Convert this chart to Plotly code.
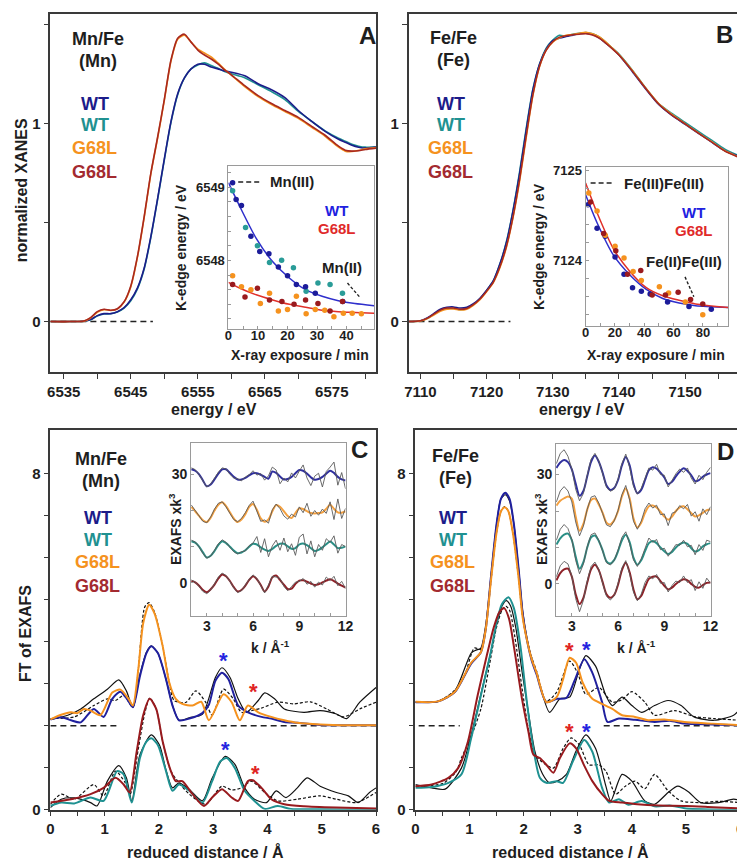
import plotly.graph_objects as go

W, H = 745, 860
FONT = "Liberation Sans, Arial, Helvetica, sans-serif"

NAVY = "#1c1c8a"
TEAL = "#1f9191"
ORANGE = "#f5921e"
DARKRED = "#a8281f"
FIT_BLUE = "#2f2fcc"
FIT_RED = "#e0302a"
STAR_BLUE = "#2424e0"
STAR_RED = "#e02424"
GRAY = "#5a5a5a"
TXT = "#1e1e1e"

# ---------------- Panel A: Mn K-edge XANES ----------------
mn_energy = [6533, 6536, 6538, 6539, 6540, 6541, 6542, 6543, 6544, 6545, 6546, 6547, 6548, 6549,
             6550, 6551, 6552, 6553, 6554, 6555, 6556, 6557, 6558, 6559, 6560, 6562, 6564, 6566,
             6568, 6570, 6572, 6574, 6576, 6577, 6578, 6579, 6580, 6581.6]
mn_wt_navy = [0.0, 0.0, 0.002, 0.01, 0.03, 0.04, 0.04, 0.05, 0.07, 0.11, 0.17, 0.27, 0.43, 0.62,
              0.82, 1.01, 1.15, 1.23, 1.275, 1.298, 1.298, 1.285, 1.275, 1.265, 1.258, 1.24, 1.20, 1.17,
              1.13, 1.065, 1.01, 0.96, 0.92, 0.905, 0.89, 0.88, 0.875, 0.88]
mn_wt_teal = [0.0, 0.0, 0.002, 0.009, 0.028, 0.038, 0.039, 0.048, 0.068, 0.105, 0.165, 0.265, 0.425, 0.615,
              0.815, 1.005, 1.145, 1.228, 1.275, 1.295, 1.305, 1.292, 1.278, 1.262, 1.25, 1.23, 1.195, 1.16,
              1.12, 1.06, 1.01, 0.962, 0.925, 0.91, 0.895, 0.885, 0.88, 0.882]
mn_g68l_orange = [0.0, 0.0, 0.002, 0.018, 0.047, 0.06, 0.056, 0.063, 0.098, 0.175, 0.325, 0.525, 0.745, 0.925,
                  1.115, 1.315, 1.425, 1.445, 1.41, 1.375, 1.355, 1.335, 1.305, 1.272, 1.243, 1.185, 1.135, 1.095,
                  1.06, 1.025, 0.98, 0.935, 0.88, 0.86, 0.858, 0.864, 0.872, 0.878]
mn_g68l_red = [0.0, 0.0, 0.003, 0.02, 0.05, 0.062, 0.057, 0.065, 0.10, 0.18, 0.33, 0.53, 0.75, 0.93,
               1.12, 1.32, 1.43, 1.45, 1.41, 1.37, 1.345, 1.325, 1.30, 1.27, 1.245, 1.19, 1.14, 1.10,
               1.065, 1.03, 0.985, 0.94, 0.885, 0.865, 0.86, 0.862, 0.868, 0.875]
mn_base_x = [6533, 6548.3]
base_zero = [0, 0]

# ---------------- Panel B: Fe K-edge XANES ----------------
fe_energy = [7108.2, 7110, 7111, 7112, 7113, 7114, 7115, 7116, 7117, 7118, 7119, 7120, 7121, 7122,
             7123, 7124, 7125, 7126, 7127, 7128, 7129, 7130, 7131, 7132, 7133, 7134, 7135, 7136,
             7137, 7138, 7139, 7140, 7142, 7144, 7146, 7148, 7150, 7152, 7154, 7156, 7158.3]
fe_wt_navy = [0.0, 0.004, 0.018, 0.04, 0.062, 0.072, 0.074, 0.068, 0.072, 0.09, 0.118, 0.158, 0.205, 0.29,
              0.40, 0.56, 0.75, 0.97, 1.17, 1.30, 1.375, 1.418, 1.43, 1.438, 1.445, 1.452, 1.455, 1.448,
              1.432, 1.405, 1.378, 1.345, 1.262, 1.175, 1.095, 1.04, 0.995, 0.95, 0.905, 0.862, 0.832]
fe_wt_teal = [0.0, 0.003, 0.015, 0.036, 0.056, 0.066, 0.066, 0.06, 0.066, 0.086, 0.116, 0.157, 0.205, 0.29,
              0.405, 0.565, 0.76, 0.98, 1.175, 1.30, 1.38, 1.42, 1.445, 1.44, 1.45, 1.455, 1.458, 1.452,
              1.436, 1.41, 1.38, 1.35, 1.27, 1.18, 1.10, 1.05, 1.005, 0.96, 0.915, 0.87, 0.835]
fe_g68l_orange = [0.0, 0.003, 0.014, 0.033, 0.052, 0.062, 0.063, 0.058, 0.062, 0.082, 0.11, 0.15, 0.195, 0.27,
                  0.375, 0.525, 0.71, 0.93, 1.14, 1.285, 1.37, 1.41, 1.432, 1.445, 1.448, 1.455, 1.46, 1.452,
                  1.438, 1.412, 1.38, 1.348, 1.268, 1.18, 1.10, 1.045, 0.998, 0.952, 0.908, 0.862, 0.828]
fe_g68l_red = [0.0, 0.004, 0.016, 0.037, 0.058, 0.068, 0.068, 0.062, 0.066, 0.085, 0.114, 0.153, 0.198, 0.275,
               0.38, 0.53, 0.72, 0.94, 1.145, 1.288, 1.368, 1.412, 1.435, 1.442, 1.447, 1.45, 1.452, 1.446,
               1.43, 1.405, 1.376, 1.345, 1.265, 1.178, 1.098, 1.042, 0.997, 0.951, 0.906, 0.86, 0.826]
fe_base_x = [7108.2, 7123.6]

# ---------------- Inset A: Mn K-edge energy vs exposure ----------------
mn_wt_navy_t = [1.4, 2.6, 4.4, 7.6, 10.6, 13.7, 16.9, 20.0, 23.0, 26.1, 29.4, 38.7]
mn_wt_navy_e = [6549.06, 6548.83, 6548.75, 6548.33, 6548.12, 6548.09, 6547.91, 6547.79, 6547.67, 6547.64, 6547.55, 6547.44]
mn_wt_teal_t = [1.4, 5.8, 9.8, 13.9, 18.0, 22.0, 26.3, 30.3, 34.4, 38.6]
mn_wt_teal_e = [6548.95, 6548.45, 6548.20, 6547.97, 6548.00, 6547.90, 6547.58, 6547.69, 6547.67, 6547.55]
mn_g68l_orange_t = [1.4, 4.4, 7.6, 10.8, 13.9, 16.9, 20.0, 23.0, 26.3, 29.4, 32.6, 35.7, 38.9, 41.9, 45.0]
mn_g68l_orange_e = [6547.79, 6547.64, 6547.60, 6547.41, 6547.55, 6547.31, 6547.33, 6547.51, 6547.27, 6547.33,
                    6547.32, 6547.23, 6547.28, 6547.28, 6547.27]
mn_g68l_red_t = [1.4, 5.6, 9.8, 13.9, 18.1, 22.2, 26.1, 30.3, 34.4, 38.6]
mn_g68l_red_e = [6547.67, 6547.50, 6547.62, 6547.46, 6547.44, 6547.40, 6547.46, 6547.41, 6547.31, 6547.44]
mn_fit_t = [0, 3.9, 9.4, 15.0, 20.6, 26.1, 31.7, 37.2, 42.8, 49.3]
mn_fit_wt = [6549.06, 6548.73, 6548.30, 6547.98, 6547.76, 6547.60, 6547.51, 6547.45, 6547.41, 6547.38]
mn_fit_g68l = [6547.70, 6547.62, 6547.53, 6547.46, 6547.40, 6547.36, 6547.32, 6547.30, 6547.29, 6547.28]
mn3_ref_t = [3.3, 11.0]
mn3_ref_e = [6549.07, 6549.07]
mn2_ptr_t = [40.3, 44.4]
mn2_ptr_e = [6547.69, 6547.50]

# ---------------- Inset B: Fe K-edge energy vs exposure ----------------
fe_wt_navy_t = [1.6, 7.8, 13.4, 20.1, 26.2, 32.0, 38.0, 44.0, 55.9, 70.5, 85.7]
fe_wt_navy_e = [7124.62, 7124.36, 7124.27, 7124.04, 7123.85, 7123.70, 7123.66, 7123.63, 7123.54, 7123.49, 7123.46]
fe_g68l_orange_t = [2.2, 7.8, 13.4, 20.1, 26.2, 32.4, 38.0, 50.3, 56.6, 68.0, 79.9]
fe_g68l_orange_e = [7124.75, 7124.55, 7124.28, 7124.16, 7124.03, 7123.88, 7123.78, 7123.71, 7123.64, 7123.54, 7123.40]
fe_g68l_red_t = [3.4, 12.3, 20.6, 28.6, 37.6, 45.4, 54.4, 63.1, 71.6, 79.9]
fe_g68l_red_e = [7124.65, 7124.30, 7124.11, 7123.85, 7123.89, 7123.62, 7123.62, 7123.65, 7123.57, 7123.52]
fe_fit_t = [0, 7.8, 19.0, 30.2, 41.4, 52.6, 63.8, 75.0, 97.3]
fe_fit_wt = [7124.73, 7124.42, 7124.06, 7123.84, 7123.68, 7123.58, 7123.53, 7123.50, 7123.48]
fe_fit_g68l = [7124.86, 7124.53, 7124.13, 7123.88, 7123.70, 7123.61, 7123.56, 7123.52, 7123.48]
fe33_ref_t = [3.4, 19.0]
fe33_ref_e = [7124.86, 7124.86]
fe23_ptr_t = [67.8, 73.8]
fe23_ptr_e = [7123.82, 7123.60]

# ---------------- Panel C: Mn/Fe FT of EXAFS ----------------
c_up_orange_r = [0, 0.2, 0.38, 0.5, 0.62, 0.74, 0.92, 1.14, 1.29, 1.44, 1.52, 1.62, 1.71, 1.82, 1.92, 2.07, 2.19,
                 2.31, 2.43, 2.62, 2.78, 2.92, 3.19, 3.34, 3.49, 3.64, 3.83, 4.07, 4.31, 4.55, 4.97, 5.5, 6.0]
c_up_orange_y = [2.15, 2.26, 2.32, 2.30, 2.40, 2.36, 2.25, 2.79, 2.86, 2.64, 2.48, 3.34, 4.44, 4.88, 4.67, 3.89, 3.03,
                 2.64, 2.52, 2.48, 2.57, 2.13, 2.75, 2.56, 2.13, 2.48, 2.32, 2.21, 2.13, 2.07, 2.03, 2.01, 2.01]
c_up_blue_r = [0, 0.2, 0.38, 0.56, 0.80, 0.98, 1.14, 1.29, 1.41, 1.52, 1.65, 1.77, 1.86, 1.98, 2.13, 2.25, 2.37,
               2.56, 2.80, 2.92, 3.04, 3.16, 3.28, 3.46, 3.64, 3.89, 4.07, 4.31, 4.55, 4.97, 6.0]
c_up_blue_y = [2.15, 2.20, 2.13, 2.08, 2.40, 2.21, 2.64, 2.81, 2.64, 2.44, 3.18, 3.73, 3.89, 3.73, 3.11, 2.48, 2.13,
               2.17, 2.30, 2.50, 3.07, 3.26, 3.11, 2.48, 2.32, 2.21, 2.17, 2.09, 2.07, 2.02, 2.01]
c_up_sim_wt_r = [0, 0.32, 0.56, 0.80, 1.05, 1.26, 1.40, 1.52, 1.65, 1.77, 1.86, 1.98, 2.13, 2.25, 2.37, 2.56, 2.80,
                 3.04, 3.16, 3.31, 3.46, 3.61, 3.83, 3.95, 4.13, 4.31, 4.67, 4.97, 5.27, 5.46, 5.70, 6.0]
c_up_sim_wt_y = [2.15, 2.25, 2.40, 2.64, 2.87, 3.09, 2.83, 2.44, 3.22, 3.75, 3.90, 3.73, 3.11, 2.48, 2.13, 2.19, 2.27,
                 3.15, 3.38, 3.15, 2.64, 2.32, 2.60, 2.78, 2.64, 2.40, 2.32, 2.36, 2.28, 2.17, 2.56, 2.91]
c_up_sim_g68l_r = [0, 0.44, 0.80, 1.05, 1.20, 1.35, 1.52, 1.62, 1.74, 1.82, 1.92, 2.07, 2.19, 2.28, 2.50, 2.68,
                   2.86, 2.98, 3.19, 3.37, 3.52, 3.70, 3.89, 4.19, 4.49, 4.79, 5.09, 5.40, 5.70, 6.0]
c_up_sim_g68l_y = [2.17, 2.21, 2.48, 2.64, 2.60, 2.72, 2.44, 3.34, 4.83, 4.93, 4.70, 3.90, 3.03, 2.60, 2.56, 2.83,
                   2.56, 2.25, 2.87, 2.64, 2.32, 2.36, 2.42, 2.56, 2.52, 2.57, 2.40, 2.21, 2.40, 2.56]
c_lo_red_r = [0, 0.38, 0.74, 0.98, 1.20, 1.35, 1.46, 1.59, 1.71, 1.83, 1.95, 2.07, 2.22, 2.31, 2.43, 2.62, 2.83,
              2.98, 3.16, 3.34, 3.46, 3.64, 3.73, 3.89, 4.07, 4.31, 4.67, 5.27, 6.0]
c_lo_red_y = [0.17, 0.25, 0.37, 0.52, 0.76, 0.60, 0.41, 1.38, 2.25, 2.64, 2.40, 1.62, 0.92, 0.68, 0.68, 0.37, 0.09,
              0.29, 0.49, 0.29, 0.21, 0.68, 0.70, 0.52, 0.25, 0.13, 0.08, 0.05, 0.03]
c_lo_teal_r = [0, 0.2, 0.44, 0.74, 0.98, 1.23, 1.35, 1.50, 1.65, 1.77, 1.86, 1.98, 2.13, 2.25, 2.37, 2.56, 2.80,
               2.98, 3.13, 3.25, 3.40, 3.58, 3.76, 3.95, 4.19, 4.43, 5.0, 6.0]
c_lo_teal_y = [0.09, 0.17, 0.15, 0.29, 0.21, 0.92, 0.84, 0.17, 1.23, 1.62, 1.70, 1.54, 0.92, 0.45, 0.60, 0.45, 0.17,
               0.68, 1.15, 1.23, 0.99, 0.45, 0.21, 0.02, 0.09, 0.02, 0.01, 0.0]
c_lo_sim_wt_r = [0, 0.2, 0.44, 0.74, 0.86, 1.05, 1.26, 1.40, 1.50, 1.65, 1.86, 2.01, 2.13, 2.25, 2.37, 2.56, 2.80,
                 2.98, 3.22, 3.40, 3.58, 3.76, 3.98, 4.16, 4.34, 4.55, 4.73, 4.97, 5.27, 5.49, 5.67, 5.88, 6.0]
c_lo_sim_wt_y = [0.05, 0.25, 0.28, 0.17, 0.09, 0.68, 1.05, 0.76, 0.21, 1.31, 1.78, 1.54, 0.95, 0.52, 0.64, 0.48, 0.21,
                 0.75, 1.27, 1.08, 0.52, 0.25, 0.17, 0.45, 0.29, 0.52, 0.76, 0.56, 0.41, 0.33, 0.17, 0.41, 0.52]
c_lo_sim_g68l_r = [0, 0.2, 0.44, 0.80, 0.98, 1.20, 1.38, 1.47, 1.62, 1.74, 1.83, 1.95, 2.07, 2.22, 2.37, 2.56, 2.86,
                   3.16, 3.34, 3.52, 3.70, 3.95, 4.19, 4.55, 4.97, 5.27, 5.64, 6.0]
c_lo_sim_g68l_y = [0.13, 0.37, 0.25, 0.60, 0.33, 0.92, 0.64, 0.37, 1.45, 2.30, 2.66, 2.40, 1.62, 0.92, 0.64, 0.37, 0.13,
                   0.56, 0.47, 0.52, 0.68, 0.41, 0.21, 0.25, 0.33, 0.25, 0.17, 0.41]
c_base1_r = [0, 1.29]
c_base2_r = [2.40, 6.0]
base_two = [2, 2]
c_star_blue_r = [3.19, 3.22]
c_star_blue_y = [3.69, 1.58]
c_star_red_r = [3.75, 3.78]
c_star_red_y = [2.95, 1.01]

# ---------------- Panel D: Fe/Fe FT of EXAFS ----------------
d_up_blue_r = [0, 0.42, 0.73, 1.03, 1.21, 1.30, 1.40, 1.50, 1.58, 1.66, 1.74, 1.82, 1.91, 1.98, 2.06, 2.15, 2.24,
               2.42, 2.61, 2.79, 2.94, 3.12, 3.27, 3.45, 3.55, 3.76, 4.06, 4.42, 4.7, 4.97, 5.5, 6.0]
d_up_blue_y = [2.56, 2.58, 2.80, 3.48, 3.75, 4.3, 5.6, 6.8, 7.4, 7.55, 7.4, 6.8, 5.7, 4.7, 4.05, 3.55, 3.22,
               2.56, 2.64, 2.66, 3.07, 3.58, 3.26, 2.56, 2.09, 2.17, 2.14, 2.09, 2.12, 2.05, 2.03, 2.01]
d_up_orange_r = [0, 0.42, 0.73, 1.03, 1.21, 1.30, 1.40, 1.50, 1.58, 1.65, 1.72, 1.80, 1.90, 1.98, 2.06, 2.15, 2.24,
                 2.42, 2.61, 2.73, 2.85, 2.97, 3.09, 3.27, 3.45, 3.64, 3.82, 4.06, 4.30, 4.6, 4.97, 5.5, 6.0]
d_up_orange_y = [2.57, 2.58, 2.81, 3.50, 3.75, 4.3, 5.5, 6.6, 7.1, 7.2, 7.1, 6.6, 5.6, 4.6, 4.05, 3.58, 3.26,
                 2.56, 2.68, 3.11, 3.62, 3.50, 3.03, 2.64, 2.52, 2.40, 2.25, 2.21, 2.13, 2.15, 2.09, 2.05, 2.01]
d_up_sim_wt_r = [0, 0.42, 0.73, 1.03, 1.12, 1.21, 1.30, 1.40, 1.50, 1.58, 1.66, 1.74, 1.82, 1.91, 1.98, 2.06, 2.15,
                 2.24, 2.48, 2.67, 2.85, 3.03, 3.15, 3.33, 3.52, 3.64, 3.82, 4.0, 4.18, 4.42, 4.67, 4.91, 5.15,
                 5.52, 5.88, 6.0]
d_up_sim_wt_y = [2.56, 2.58, 2.83, 3.73, 3.80, 3.85, 4.4, 5.6, 6.8, 7.4, 7.5, 7.35, 6.8, 5.7, 4.75, 4.1, 3.6,
                 3.25, 2.32, 2.64, 2.68, 3.34, 3.67, 3.42, 2.72, 2.48, 2.68, 2.48, 2.32, 2.48, 2.60, 2.48, 2.21,
                 2.13, 2.25, 2.40]
d_up_sim_g68l_r = [0, 0.42, 0.73, 0.91, 1.09, 1.21, 1.30, 1.40, 1.50, 1.58, 1.65, 1.72, 1.80, 1.90, 1.98, 2.06,
                   2.15, 2.24, 2.42, 2.61, 2.85, 3.0, 3.15, 3.39, 3.64, 3.82, 4.0, 4.24, 4.42, 4.79, 5.15, 5.52, 6.0]
d_up_sim_g68l_y = [2.56, 2.58, 2.85, 3.20, 3.85, 3.82, 4.3, 5.5, 6.6, 7.1, 7.22, 7.1, 6.6, 5.6, 4.6, 4.05,
                   3.62, 3.3, 2.58, 2.8, 3.54, 3.25, 2.75, 2.91, 2.56, 2.62, 2.81, 2.56, 2.25, 2.36, 2.22, 2.17, 2.13]
d_lo_red_r = [0, 0.3, 0.61, 0.79, 0.97, 1.15, 1.33, 1.45, 1.55, 1.64, 1.73, 1.82, 1.97, 2.09, 2.18, 2.30, 2.42,
              2.55, 2.67, 2.85, 2.97, 3.12, 3.27, 3.45, 3.58, 3.82, 4.1, 4.5, 5.0, 5.5, 6.0]
d_lo_red_y = [0.56, 0.60, 0.76, 0.99, 1.62, 2.72, 3.73, 4.35, 4.70, 4.80, 4.55, 3.89, 2.64, 1.85, 1.31, 1.23, 1.07,
              0.88, 1.23, 1.58, 1.46, 1.05, 0.68, 0.37, 0.21, 0.17, 0.13, 0.10, 0.09, 0.06, 0.03]
d_lo_teal_r = [0, 0.3, 0.61, 0.85, 1.03, 1.21, 1.39, 1.50, 1.60, 1.72, 1.82, 1.94, 2.06, 2.18, 2.30, 2.42, 2.61,
               2.73, 2.91, 3.12, 3.27, 3.45, 3.58, 3.76, 3.94, 4.18, 4.42, 4.7, 5.0, 6.0]
d_lo_teal_y = [0.52, 0.54, 0.64, 0.84, 1.70, 2.72, 3.73, 4.45, 4.9, 5.06, 4.8, 3.9, 2.56, 1.46, 0.76, 0.64, 0.68,
               0.64, 1.15, 1.66, 1.38, 0.52, 0.17, 0.25, 0.12, 0.21, 0.08, 0.1, 0.03, 0.0]
d_lo_sim_wt_r = [0, 0.3, 0.55, 0.85, 1.03, 1.21, 1.39, 1.50, 1.60, 1.68, 1.76, 1.86, 1.97, 2.09, 2.21, 2.35, 2.48,
                 2.62, 2.79, 2.97, 3.15, 3.33, 3.52, 3.61, 3.82, 4.0, 4.24, 4.42, 4.67, 4.85, 5.05, 5.27, 5.6,
                 5.88, 6.0]
d_lo_sim_wt_y = [0.60, 0.52, 0.49, 0.99, 1.78, 2.75, 3.73, 4.40, 4.85, 4.98, 4.85, 4.3, 3.3, 2.3, 1.38, 0.85, 0.64,
                 0.68, 0.84, 1.40, 1.78, 1.46, 0.56, 0.21, 0.84, 0.68, 0.21, 0.13, 0.41, 0.56, 0.42, 0.17, 0.17,
                 0.25, 0.22]
d_lo_sim_g68l_r = [0, 0.5, 0.75, 0.85, 1.03, 1.21, 1.39, 1.50, 1.60, 1.67, 1.74, 1.84, 1.97, 2.09, 2.21, 2.38,
                   2.55, 2.73, 2.88, 3.03, 3.21, 3.39, 3.52, 3.70, 3.88, 4.06, 4.24, 4.42, 4.67, 4.91, 5.27, 5.6, 6.0]
d_lo_sim_g68l_y = [0.56, 0.62, 0.90, 1.23, 1.74, 2.4, 3.6, 4.35, 4.75, 4.85, 4.75, 4.1, 2.9, 1.9, 1.31, 1.10,
                   0.99, 1.46, 1.71, 1.54, 1.07, 1.07, 0.92, 0.37, 0.56, 0.68, 0.50, 0.84, 0.45, 0.21, 0.17, 0.20, 0.17]
d_base1_r = [0.06, 0.82]
d_base2_r = [3.48, 6.0]
d_star_red_r = [2.84, 2.84]
d_star_red_y = [3.93, 2.01]
d_star_blue_r = [3.17, 3.17]
d_star_blue_y = [3.95, 2.01]

# ---------------- Insets C and D: k-space EXAFS ----------------
k_grid = [2.0, 2.25, 2.5, 2.75, 3.0, 3.25, 3.5, 3.75, 4.0, 4.25, 4.5, 4.75, 5.0, 5.25, 5.5, 5.75, 6.0, 6.25,
          6.5, 6.75, 7.0, 7.25, 7.5, 7.75, 8.0, 8.25, 8.5, 8.75, 9.0, 9.25, 9.5, 9.75, 10.0, 10.25, 10.5,
          10.75, 11.0, 11.25, 11.5, 11.75, 12.0]
kc_navy_fit = [31.4, 31.0, 30.0, 28.3, 26.7, 27.2, 28.6, 30.2, 31.4, 31.4, 30.4, 29.3, 28.6, 28.6, 29.0, 29.7,
               30.3, 30.3, 29.9, 29.3, 28.8, 30.8, 30.4, 29.4, 28.6, 28.7, 29.3, 30.3, 31.2, 31.0, 30.2, 29.2,
               28.5, 28.7, 29.3, 30.2, 31.0, 30.4, 29.3, 28.6, 28.3]
kc_navy_dat = [31.8, 31.3, 29.9, 28.0, 26.5, 27.3, 28.9, 30.6, 31.8, 31.5, 30.0, 29.0, 28.8, 28.2, 29.3, 29.9,
               31.0, 29.8, 30.2, 28.4, 29.6, 32.0, 31.2, 27.4, 29.0, 27.9, 30.4, 29.0, 30.9, 32.6, 29.0, 26.9,
               29.5, 30.3, 26.5, 30.8, 32.0, 33.4, 27.0, 30.5, 26.0]
kc_orange_fit = [21.0, 19.8, 18.5, 17.3, 16.8, 18.0, 20.0, 21.6, 22.3, 21.2, 19.5, 17.8, 16.8, 17.5, 19.0, 21.0,
                 21.8, 20.2, 17.8, 16.9, 17.5, 19.8, 21.5, 21.0, 19.8, 18.5, 17.9, 19.3, 20.6, 20.4, 19.8, 19.3,
                 19.2, 19.3, 19.5, 20.5, 21.6, 20.5, 19.5, 19.4, 19.8]
kc_orange_dat = [21.5, 20.0, 18.3, 17.0, 16.6, 18.2, 20.4, 22.0, 22.4, 21.0, 19.2, 17.5, 16.9, 17.8, 19.4, 21.4,
                 22.6, 19.6, 17.0, 17.4, 16.5, 20.2, 21.8, 20.5, 18.5, 17.6, 19.0, 18.2, 21.0, 19.4, 22.0, 18.4,
                 20.0, 18.7, 20.4, 19.2, 22.4, 17.5, 23.2, 17.8, 20.6]
kc_teal_fit = [11.5, 11.1, 10.0, 8.4, 7.0, 7.5, 8.8, 10.5, 11.5, 11.0, 10.0, 8.9, 8.2, 8.4, 9.0, 10.0, 10.8,
               10.6, 9.8, 9.2, 8.8, 9.4, 10.2, 10.8, 10.8, 10.1, 9.4, 9.6, 10.6, 10.9, 10.4, 9.6, 8.8, 9.1, 9.8,
               10.7, 11.4, 10.6, 9.6, 9.7, 10.1]
kc_teal_dat = [11.8, 11.3, 9.9, 8.1, 6.8, 7.4, 9.0, 10.8, 11.9, 11.2, 9.8, 8.6, 8.0, 8.6, 8.8, 10.3, 11.0, 12.8,
               8.4, 12.2, 7.2, 10.2, 11.8, 9.0, 12.4, 8.6, 10.8, 7.6, 12.6, 13.5, 8.0, 11.6, 7.2, 10.6, 9.0, 12.2,
               11.2, 13.0, 8.2, 10.6, 10.0]
kc_red_fit = [0.5, 0.1, -0.8, -2.0, -2.6, -1.8, -0.5, 1.2, 2.3, 1.8, 0.5, -1.2, -2.4, -2.0, -0.8, 0.8, 1.8, 1.0,
              -0.6, -2.4, -1.0, 1.5, 2.0, 0.8, -0.5, -1.7, -1.6, -0.3, 0.6, 0.7, 0.3, -0.2, -0.6, -0.4, 0.1,
              0.6, 1.0, 0.5, -0.2, -0.8, -1.3]
kc_red_dat = [0.8, 0.2, -1.0, -2.4, -3.0, -2.0, -0.3, 1.6, 2.7, 2.0, 0.4, -1.4, -2.7, -2.2, -0.6, 1.0, 2.2, 1.2,
              -0.8, -2.8, -0.6, 1.8, 1.6, 1.2, -1.0, -2.2, -1.0, 0.2, 0.4, 1.2, -0.4, 0.4, -1.2, 0.2, -0.6,
              1.6, 0.6, 1.8, -0.8, 0.4, -1.6]
kd_navy_fit = [31.8, 33.3, 34.0, 33.4, 31.4, 27.5, 24.2, 25.5, 29.5, 33.5, 35.2, 33.5, 30.5, 27.0, 25.8, 26.3,
               28.5, 32.5, 34.8, 32.5, 27.5, 24.9, 25.8, 28.5, 31.2, 32.0, 31.6, 30.5, 29.2, 27.4, 28.0, 29.5,
               30.8, 31.7, 31.0, 29.8, 28.2, 28.5, 29.4, 30.0, 30.4]
kd_navy_dat = [33.0, 35.8, 36.8, 35.0, 31.5, 26.0, 22.8, 24.8, 29.8, 34.2, 35.8, 33.8, 30.2, 26.5, 25.4, 26.0,
               28.8, 33.0, 35.6, 32.0, 26.8, 24.6, 26.2, 29.0, 31.8, 31.2, 32.8, 30.0, 29.8, 26.6, 28.6, 30.2,
               31.5, 30.6, 31.8, 29.0, 27.4, 29.8, 28.6, 30.6, 32.0]
kd_orange_fit = [21.5, 22.8, 23.5, 24.0, 23.4, 18.5, 14.6, 16.5, 20.4, 23.0, 23.4, 21.8, 19.5, 16.8, 16.3, 17.5,
                 20.0, 24.0, 26.2, 23.5, 18.0, 15.5, 16.8, 19.5, 21.3, 21.5, 21.0, 19.8, 18.5, 17.6, 18.5, 20.0,
                 21.0, 21.3, 20.5, 19.4, 18.5, 18.8, 19.5, 20.2, 20.4]
kd_orange_dat = [22.5, 25.5, 26.7, 25.5, 22.5, 17.0, 13.2, 15.8, 20.5, 23.8, 24.2, 22.2, 19.3, 16.2, 15.7, 17.3,
                 20.2, 24.5, 27.0, 23.0, 17.2, 15.0, 17.2, 20.6, 22.2, 20.8, 21.6, 19.0, 19.2, 16.0, 19.4, 19.8,
                 21.5, 20.6, 21.8, 18.6, 19.8, 17.2, 20.6, 19.0, 21.2]
kd_teal_fit = [10.8, 12.5, 13.5, 13.8, 12.0, 7.5, 4.2, 6.0, 10.0, 12.8, 13.3, 11.8, 9.2, 6.2, 5.6, 6.6, 9.0,
               12.0, 13.5, 11.5, 7.2, 5.3, 6.5, 9.0, 11.2, 11.8, 11.2, 10.0, 9.0, 8.2, 8.8, 10.0, 10.9, 11.4,
               11.0, 9.8, 8.9, 9.3, 10.3, 10.9, 11.2]
kd_teal_dat = [12.0, 15.0, 16.3, 15.2, 12.2, 6.5, 2.8, 5.4, 10.2, 13.5, 14.0, 12.0, 9.0, 5.8, 5.2, 6.5, 9.3,
               12.8, 14.3, 11.0, 6.6, 4.8, 6.9, 9.8, 12.6, 11.4, 12.2, 9.4, 9.8, 7.6, 9.4, 10.8, 10.6, 12.0,
               10.2, 10.6, 8.0, 10.8, 9.2, 12.0, 11.6]
kd_red_fit = [1.0, 3.0, 4.0, 4.2, 2.0, -2.8, -5.5, -3.8, 0.4, 4.0, 5.3, 3.8, 0.5, -2.8, -3.8, -3.0, -0.2, 3.8,
              5.8, 3.2, -1.5, -4.2, -3.3, -0.8, 1.4, 2.0, 2.0, 0.8, -0.5, -1.5, -1.0, 0.0, 0.8, 1.3, 1.0, 0.0,
              -0.8, -1.0, -0.3, 0.3, 0.4]
kd_red_dat = [2.0, 5.0, 6.2, 5.5, 2.2, -4.0, -7.6, -4.5, 0.8, 4.8, 6.0, 4.0, 0.2, -3.4, -4.4, -3.2, 0.2, 4.4,
              6.4, 2.8, -2.2, -4.6, -2.8, 0.4, 2.2, 1.4, 2.6, 0.2, 0.4, -2.2, -0.4, 0.8, 0.4, 2.2, 0.4, 1.2,
              -1.8, 0.6, -1.2, 1.6, 0.2]

# ---------------- Tick definitions ----------------
a_xticks = [6535, 6540, 6545, 6550, 6555, 6560, 6565, 6570, 6575, 6580]
a_xlabels = ["6535", "", "6545", "", "6555", "", "6565", "", "6575", ""]
b_xticks = [7110, 7115, 7120, 7125, 7130, 7135, 7140, 7145, 7150, 7155]
b_xlabels = ["7110", "", "7120", "", "7130", "", "7140", "", "7150", ""]
ab_yticks = [0, 0.5, 1, 1.5]
ab_ylabels = ["0", "", "1", ""]
cd_xticks = [0, 0.5, 1, 1.5, 2, 2.5, 3, 3.5, 4, 4.5, 5, 5.5, 6]
cd_xlabels = ["0", "", "1", "", "2", "", "3", "", "4", "", "5", "", "6"]
cd_yticks = [0, 1, 2, 3, 4, 5, 6, 7, 8]
cd_ylabels = ["0", "", "", "", "", "", "", "", "8"]
ia_xticks = [0, 5, 10, 15, 20, 25, 30, 35, 40, 45]
ia_xlabels = ["0", "", "10", "", "20", "", "30", "", "40", ""]
ia_yticks = [6547.2, 6547.4, 6547.6, 6547.8, 6548.0, 6548.2, 6548.4, 6548.6, 6548.8, 6549.0, 6549.2]
ia_ylabels = ["", "", "", "", "6548", "", "", "", "", "6549", ""]
ib_xticks = [0, 10, 20, 30, 40, 50, 60, 70, 80, 90]
ib_xlabels = ["0", "", "20", "", "40", "", "60", "", "80", ""]
ib_yticks = [7123.4, 7123.6, 7123.8, 7124.0, 7124.2, 7124.4, 7124.6, 7124.8, 7125.0]
ib_ylabels = ["", "", "", "7124", "", "", "", "", "7125"]
ik_xticks = [2, 3, 4, 5, 6, 7, 8, 9, 10, 11, 12]
ik_xlabels = ["", "3", "", "", "6", "", "", "9", "", "", "12"]
ik_yticks = [0, 10, 20, 30]
ik_ylabels = ["0", "", "", "30"]


def fx(x):
    return x / W


def fy(y):
    return 1 - y / H


fig = go.Figure()


def line(x, y, xa, ya, color, width, dash=None, shape="spline", smoothing=0.7):
    fig.add_trace(go.Scatter(x=x, y=y, xaxis=xa, yaxis=ya, mode="lines",
                             line=dict(color=color, width=width, dash=dash, shape=shape,
                                       smoothing=smoothing if shape == "spline" else None),
                             hoverinfo="skip", showlegend=False))


def dots(x, y, xa, ya, color):
    fig.add_trace(go.Scatter(x=x, y=y, xaxis=xa, yaxis=ya, mode="markers",
                             marker=dict(color=color, size=5.5, line=dict(width=0)),
                             hoverinfo="skip", showlegend=False))


# Panel A
line(mn_base_x, base_zero, "x", "y", "#222", 1.4, dash="6px,4px", shape="linear")
line(mn_energy, mn_wt_teal, "x", "y", TEAL, 1.6)
line(mn_energy, mn_wt_navy, "x", "y", NAVY, 1.6)
line(mn_energy, mn_g68l_orange, "x", "y", ORANGE, 1.6)
line(mn_energy, mn_g68l_red, "x", "y", DARKRED, 1.6)

# Panel B
line(fe_base_x, base_zero, "x2", "y2", "#222", 1.4, dash="6px,4px", shape="linear")
line(fe_energy, fe_wt_teal, "x2", "y2", TEAL, 1.5)
line(fe_energy, fe_wt_navy, "x2", "y2", NAVY, 1.5)
line(fe_energy, fe_g68l_orange, "x2", "y2", ORANGE, 1.5)
line(fe_energy, fe_g68l_red, "x2", "y2", DARKRED, 1.5)

# Inset A
line(mn3_ref_t, mn3_ref_e, "x5", "y5", "#222", 1.6, dash="5px,3px", shape="linear")
line(mn2_ptr_t, mn2_ptr_e, "x5", "y5", "#222", 1.4, dash="3px,2px", shape="linear")
line(mn_fit_t, mn_fit_wt, "x5", "y5", FIT_BLUE, 1.5)
line(mn_fit_t, mn_fit_g68l, "x5", "y5", FIT_RED, 1.5)
dots(mn_wt_teal_t, mn_wt_teal_e, "x5", "y5", "#2a9c98")
dots(mn_wt_navy_t, mn_wt_navy_e, "x5", "y5", "#1c1c9a")
dots(mn_g68l_orange_t, mn_g68l_orange_e, "x5", "y5", ORANGE)
dots(mn_g68l_red_t, mn_g68l_red_e, "x5", "y5", "#9a1a1e")

# Inset B
line(fe33_ref_t, fe33_ref_e, "x6", "y6", "#222", 1.6, dash="5px,3px", shape="linear")
line(fe23_ptr_t, fe23_ptr_e, "x6", "y6", "#222", 1.4, dash="3px,2px", shape="linear")
line(fe_fit_t, fe_fit_wt, "x6", "y6", FIT_BLUE, 1.5)
line(fe_fit_t, fe_fit_g68l, "x6", "y6", FIT_RED, 1.5)
dots(fe_wt_navy_t, fe_wt_navy_e, "x6", "y6", "#1c1c9a")
dots(fe_g68l_orange_t, fe_g68l_orange_e, "x6", "y6", ORANGE)
dots(fe_g68l_red_t, fe_g68l_red_e, "x6", "y6", "#9a1a1e")

# Panel C
line(c_base1_r, base_two, "x3", "y3", "#222", 1.4, dash="6px,4px", shape="linear")
line(c_base2_r, base_two, "x3", "y3", "#222", 1.4, dash="6px,4px", shape="linear")
line(c_up_sim_wt_r, c_up_sim_wt_y, "x3", "y3", "#111", 1.2)
line(c_up_sim_g68l_r, c_up_sim_g68l_y, "x3", "y3", "#111", 1.2, dash="3px,2px")
line(c_lo_sim_wt_r, c_lo_sim_wt_y, "x3", "y3", "#111", 1.2)
line(c_lo_sim_g68l_r, c_lo_sim_g68l_y, "x3", "y3", "#111", 1.2, dash="3px,2px")
line(c_up_blue_r, c_up_blue_y, "x3", "y3", "#20209e", 2.0)
line(c_up_orange_r, c_up_orange_y, "x3", "y3", ORANGE, 2.0)
line(c_lo_teal_r, c_lo_teal_y, "x3", "y3", TEAL, 2.0)
line(c_lo_red_r, c_lo_red_y, "x3", "y3", "#981a1e", 2.0)

# Panel D
line(d_base1_r, base_two, "x4", "y4", "#222", 1.4, dash="6px,4px", shape="linear")
line(d_base2_r, base_two, "x4", "y4", "#222", 1.4, dash="6px,4px", shape="linear")
line(d_up_sim_wt_r, d_up_sim_wt_y, "x4", "y4", "#111", 1.2)
line(d_up_sim_g68l_r, d_up_sim_g68l_y, "x4", "y4", "#111", 1.2, dash="3px,2px")
line(d_lo_sim_wt_r, d_lo_sim_wt_y, "x4", "y4", "#111", 1.2)
line(d_lo_sim_g68l_r, d_lo_sim_g68l_y, "x4", "y4", "#111", 1.2, dash="3px,2px")
line(d_up_blue_r, d_up_blue_y, "x4", "y4", "#20209e", 2.0)
line(d_up_orange_r, d_up_orange_y, "x4", "y4", ORANGE, 2.0)
line(d_lo_teal_r, d_lo_teal_y, "x4", "y4", TEAL, 2.0)
line(d_lo_red_r, d_lo_red_y, "x4", "y4", "#981a1e", 2.0)

# Insets C, D (fits then data)
for xa, ya, fits, dats in [
    ("x7", "y7", [kc_navy_fit, kc_orange_fit, kc_teal_fit, kc_red_fit],
     [kc_navy_dat, kc_orange_dat, kc_teal_dat, kc_red_dat]),
    ("x8", "y8", [kd_navy_fit, kd_orange_fit, kd_teal_fit, kd_red_fit],
     [kd_navy_dat, kd_orange_dat, kd_teal_dat, kd_red_dat]),
]:
    for f, d, col in zip(fits, dats, ["#30309e", "#f3a040", "#2a8f86", "#8e2128"]):
        line(k_grid, f, xa, ya, col, 2.0, smoothing=0.8)
        line(k_grid, d, xa, ya, GRAY, 0.9, shape="linear")


def axis(dom, rng, tv, tt, anchor, size=15, ticks="outside", ticklen=5, lc="#3a3a3a", lw=1.5,
         standoff=0):
    return dict(domain=dom, range=rng, anchor=anchor, tickmode="array", tickvals=tv, ticktext=tt,
                ticks=ticks, ticklen=ticklen, tickwidth=1.1, tickcolor=lc, showline=True,
                linecolor=lc, linewidth=lw, mirror=True, showgrid=False, zeroline=False,
                ticklabelstandoff=standoff,
                tickfont=dict(family=FONT, size=size, color=TXT, weight="bold"), fixedrange=True)


A_X = [fx(39), fx(370)]
A_Y = [fy(365), fy(2)]
B_X = [fx(403), fx(740)]
C_X = [fx(39), fx(370)]
C_Y = [fy(809), fy(424)]
D_X = [fx(410), fx(740)]
INSET = dict(ticks="inside", ticklen=3, lc="#9a9a9a", lw=1)

layout = dict(
    width=W, height=H, margin=dict(l=0, r=0, t=0, b=0),
    paper_bgcolor="white", plot_bgcolor="white", showlegend=False,
    font=dict(family=FONT, color=TXT),
    xaxis=axis(A_X, [6533, 6581.6], a_xticks, a_xlabels, "y"),
    yaxis=axis(A_Y, [-0.254, 1.552], ab_yticks, ab_ylabels, "x"),
    xaxis2=axis(B_X, [7108.2, 7158.3], b_xticks, b_xlabels, "y2"),
    yaxis2=axis(A_Y, [-0.254, 1.552], ab_yticks, ab_ylabels, "x2"),
    xaxis3=axis(C_X, [0, 6], cd_xticks, cd_xlabels, "y3"),
    yaxis3=axis(C_Y, [0, 9.04], cd_yticks, cd_ylabels, "x3"),
    xaxis4=axis(D_X, [0, 6], cd_xticks, cd_xlabels, "y4"),
    yaxis4=axis(C_Y, [0, 9.04], cd_yticks, cd_ylabels, "x4"),
    xaxis5=axis([fx(220), fx(368)], [0, 49.3], ia_xticks, ia_xlabels, "y5", size=13, standoff=-5, **INSET),
    yaxis5=axis([fy(321), fy(156)], [6547.07, 6549.29], ia_yticks, ia_ylabels, "x5", size=13, **INSET),
    xaxis6=axis([fx(583), fx(728)], [0, 97.3], ib_xticks, ib_xlabels, "y6", size=13, standoff=-5, **INSET),
    yaxis6=axis([fy(318), fy(157)], [7123.28, 7125.04], ib_yticks, ib_ylabels, "x6", size=13, **INSET),
    xaxis7=axis([fx(182), fx(339)], [1.98, 12.0], ik_xticks, ik_xlabels, "y7", size=14, standoff=-3, **INSET),
    yaxis7=axis([fy(613), fy(437)], [-9.3, 38.7], ik_yticks, ik_ylabels, "x7", size=14, **INSET),
    xaxis8=axis([fx(553), fx(710)], [1.98, 12.0], ik_xticks, ik_xlabels, "y8", size=14, standoff=-3, **INSET),
    yaxis8=axis([fy(613), fy(438)], [-8.9, 38.4], ik_yticks, ik_ylabels, "x8", size=14, **INSET),
)

ann = []


def note(text, x, y, size=18, color=TXT, angle=0, xanchor="center"):
    ann.append(dict(text=text, x=fx(x), y=fy(y), xref="paper", yref="paper", showarrow=False,
                    textangle=angle, xanchor=xanchor, yanchor="middle",
                    font=dict(family=FONT, size=size, color=color, weight="bold")))


def dnote(text, x, y, xa, ya, size=15, color=TXT, xanchor="center", yshift=0):
    ann.append(dict(text=text, x=x, y=y, xref=xa, yref=ya, showarrow=False, xanchor=xanchor,
                    yanchor="middle", yshift=yshift,
                    font=dict(family=FONT, size=size, color=color, weight="bold")))


legend_colors = [NAVY, TEAL, ORANGE, "#a32a30"]
legend_labels = ["WT", "WT", "G68L", "G68L"]
legend_rows = [93, 115, 138, 162]

for (title1, title2, cx, ty, rows) in [
    ("Mn/Fe", "(Mn)", 87, 27, legend_rows),
    ("Fe/Fe", "(Fe)", 449, 26, legend_rows),
    ("Mn/Fe", "(Mn)", 90, 453, [513, 535, 558, 582]),
    ("Fe/Fe", "(Fe)", 451, 450, [513, 535, 558, 582]),
]:
    note(title1, cx, ty)
    note(title2, cx, ty + 23)
    for lab, col, ry in zip(legend_labels, legend_colors, rows):
        note(lab, cx - 3, ry, color=col)

note("A", 361, 24, size=24)
note("B", 724, 23, size=24)
note("C", 353, 444, size=24)
note("D", 725, 446, size=24)

note("energy / eV", 205, 403, size=16)
note("energy / eV", 579, 403, size=16)
note("normalized XANES", 10, 181, size=16, angle=-90)
note("reduced distance / Å", 197, 852, size=16)
note("reduced distance / Å", 568, 852, size=16)
note("FT of EXAFS", 13, 630, size=16, angle=-90)

note("K-edge energy / eV", 171, 239, size=14, angle=-90)
note("X-ray exposure / min", 293, 348, size=14)
note("K-edge energy / eV", 535, 238, size=14, angle=-90)
note("X-ray exposure / min", 655, 348, size=14)
note("EXAFS xk<sup>3</sup>", 165, 524, size=14, angle=-90)
note("k / Å<sup>-1</sup>", 263, 644, size=14)
note("EXAFS xk<sup>3</sup>", 537, 524, size=14, angle=-90)
note("k / Å<sup>-1</sup>", 635, 644, size=14)

# inset A labels
dnote("Mn(III)", 13.3, 6549.07, "x5", "y5", xanchor="left")
dnote("WT", 36.7, 6548.68, "x5", "y5", color="#2020e0")
dnote("G68L", 36.7, 6548.43, "x5", "y5", color="#e02a2a")
dnote("Mn(II)", 38.3, 6547.90, "x5", "y5")
# inset B labels
dnote("Fe(III)Fe(III)", 24.6, 7124.86, "x6", "y6", xanchor="left")
dnote("WT", 73.8, 7124.53, "x6", "y6", color="#2020e0")
dnote("G68L", 73.8, 7124.33, "x6", "y6", color="#e02a2a")
dnote("Fe(II)Fe(III)", 67.1, 7123.99, "x6", "y6")

for r, y in zip(c_star_blue_r, c_star_blue_y):
    dnote("*", r, y, "x3", "y3", size=22, color=STAR_BLUE, yshift=-6)
for r, y in zip(c_star_red_r, c_star_red_y):
    dnote("*", r, y, "x3", "y3", size=22, color=STAR_RED, yshift=-6)
for r, y in zip(d_star_blue_r, d_star_blue_y):
    dnote("*", r, y, "x4", "y4", size=22, color=STAR_BLUE, yshift=-6)
for r, y in zip(d_star_red_r, d_star_red_y):
    dnote("*", r, y, "x4", "y4", size=22, color=STAR_RED, yshift=-6)

layout["annotations"] = ann
fig.update_layout(**layout)
fig.write_html("out.html")
